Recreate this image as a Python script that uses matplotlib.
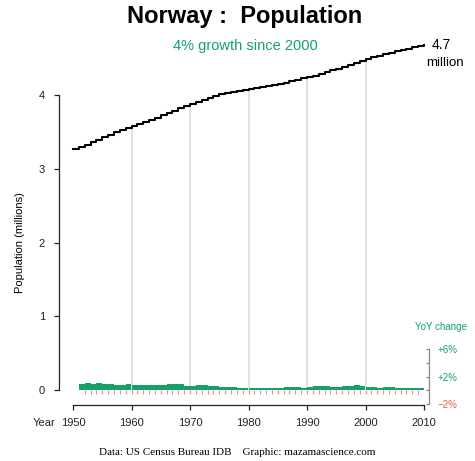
import matplotlib
matplotlib.use("Agg")
import matplotlib.pyplot as plt
import numpy as np

plt.rcParams['font.family'] = ['Liberation Sans', 'DejaVu Sans']

years = list(range(1950, 2011))
population = [
    3.265, 3.296, 3.328, 3.362, 3.395, 3.429, 3.462, 3.494, 3.523, 3.551,
    3.581, 3.610, 3.639, 3.667, 3.694, 3.723, 3.753, 3.785, 3.819, 3.851,
    3.877, 3.903, 3.933, 3.961, 3.985, 4.007, 4.026, 4.043, 4.060, 4.073,
    4.086, 4.100, 4.115, 4.128, 4.140, 4.153, 4.167, 4.187, 4.209, 4.227,
    4.241, 4.262, 4.286, 4.312, 4.337, 4.359, 4.381, 4.405, 4.431, 4.462,
    4.491, 4.514, 4.535, 4.553, 4.575, 4.598, 4.614, 4.630, 4.646, 4.661,
    4.676,
]
grid_years = [1960, 1970, 1980, 1990, 2000]
x_ticks = [1950, 1960, 1970, 1980, 1990, 2000, 2010]
y_ticks = [0, 1, 2, 3, 4]
yoy_ticks = [-2, 0, 2, 4, 6]
yoy_labels = ['\u22122%', '', '+2%', '', '+6%']

W, H = 475, 461
GREEN = '#14a068'
RED = '#ee5555'

fig = plt.figure(figsize=(W / 100, H / 100), dpi=100)

def fx(px):
    return px / W

def fy(py):
    return 1 - py / H

# main axes
ax = fig.add_axes([fx(73), fy(390), (424 - 73) / W, (390 - 95) / H])
ax.set_xlim(1950, 2010)
ax.set_ylim(0, 4)
ax.patch.set_visible(False)
for s in ['top', 'right']:
    ax.spines[s].set_visible(False)
ax.spines['left'].set_position(('outward', 14 * 0.72))
ax.spines['bottom'].set_position(('outward', 15 * 0.72))
ax.spines['left'].set_bounds(0, 4)
ax.spines['bottom'].set_bounds(1950, 2010)
for s in ['left', 'bottom']:
    ax.spines[s].set_linewidth(0.9)
    ax.spines[s].set_color('#222222')
ax.set_xticks(x_ticks)
ax.set_yticks(y_ticks)
ax.set_yticklabels([str(v) for v in y_ticks])
ax.tick_params(axis='y', length=5 * 0.72, width=0.9, labelsize=8, pad=6.5, colors='#222222')
ax.tick_params(axis='x', length=5 * 0.72, width=0.9, labelsize=8, pad=5.5, colors='#222222')
ax.set_ylabel('Population (millions)', fontsize=8, labelpad=10)

pop_lookup = dict(zip(years, population))
ax.vlines(grid_years, 0, [pop_lookup[y] for y in grid_years], color='#dadada', lw=1.1,
          zorder=1, clip_on=False)
ax.plot(years, population, drawstyle='steps-post', color='black', lw=1.5, zorder=3,
        clip_on=False)

# YoY axes
ax2 = fig.add_axes([fx(73), fy(404), (424 - 73) / W, (404 - 349) / H])
ax2.set_xlim(1950, 2010)
ax2.set_ylim(-2, 6)
ax2.patch.set_visible(False)
for s in ['top', 'left', 'bottom']:
    ax2.spines[s].set_visible(False)
ax2.spines['right'].set_position(('outward', 5 * 0.72))
ax2.spines['right'].set_bounds(-2, 6)
ax2.spines['right'].set_color('#888888')
ax2.spines['right'].set_linewidth(0.9)
ax2.set_xticks([])
ax2.yaxis.tick_right()
ax2.set_yticks(yoy_ticks)
ax2.set_yticklabels(yoy_labels)
ax2.tick_params(axis='y', direction='in', length=3 * 0.72, width=0.9, colors='#888888',
                labelsize=7, pad=6)
for lab, t in zip(ax2.get_yticklabels(), yoy_ticks):
    lab.set_color(RED if t < 0 else GREEN)

pop = np.array(population)
pct = (pop[1:] / pop[:-1] - 1) * 100
bar_years = np.array(years[1:])
ax2.bar(bar_years[1:] - 1, pct[1:], width=1.0, align='edge', color=GREEN,
        edgecolor='none', zorder=2)
ax2.vlines(np.array(years[2:-1]), -0.5, 0, color=RED, lw=0.8, alpha=0.7, zorder=1)

# texts
fig.text(fx(245), fy(17), 'Norway :  Population', ha='center', va='center',
         fontsize=17, fontweight='bold')
fig.text(fx(245), fy(46), '4% growth since 2000', ha='center', va='center',
         fontsize=10.5, color=GREEN)
fig.text(fx(441), fy(45), '4.7', ha='center', va='center', fontsize=10)
fig.text(fx(445), fy(62.5), 'million', ha='center', va='center', fontsize=9.5)
fig.text(fx(441), fy(327), 'YoY change', ha='center', va='center', fontsize=7, color=GREEN)
fig.text(fx(44), fy(423), 'Year', ha='center', va='center', fontsize=8, color='#222222')
fig.text(fx(237), fy(452), 'Data: US Census Bureau IDB    Graphic: mazamascience.com',
         ha='center', va='center', fontsize=8,
         family=['Liberation Serif', 'DejaVu Serif'])

fig.savefig('out.png', dpi=100)
